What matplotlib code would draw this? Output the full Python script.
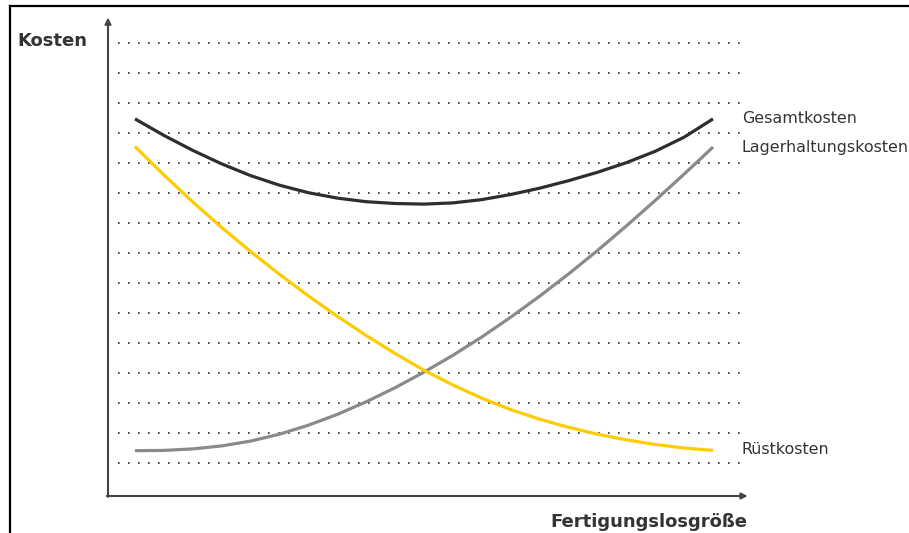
import matplotlib
matplotlib.use("Agg")
import matplotlib.pyplot as plt
from matplotlib.lines import Line2D

# ---- data ----
losgroesse = [0, 0.5, 1, 1.5, 2, 2.5, 3, 3.5, 4, 4.5, 5, 5.5, 6, 6.5, 7,
              7.5, 8, 8.5, 9, 9.5, 10]
gesamtkosten = [12.47, 11.92, 11.42, 10.97, 10.58, 10.26, 10.01, 9.83, 9.71,
                9.65, 9.63, 9.67, 9.78, 9.95, 10.16, 10.41, 10.69, 11.01,
                11.39, 11.86, 12.47]
ruestkosten = [11.55, 10.60, 9.70, 8.85, 8.05, 7.29, 6.57, 5.89, 5.25, 4.65,
               4.09, 3.60, 3.16, 2.78, 2.46, 2.19, 1.96, 1.77, 1.62, 1.50,
               1.42]
lagerkosten = [1.41, 1.42, 1.47, 1.57, 1.73, 1.96, 2.26, 2.62, 3.04, 3.51,
               4.03, 4.59, 5.20, 5.86, 6.56, 7.30, 8.08, 8.90, 9.75, 10.63,
               11.53]
grid_levels = list(range(1, 16))
series_labels = ["Gesamtkosten", "Lagerhaltungskosten", "Rüstkosten"]
y_title = "Kosten"
x_title = "Fertigungslosgröße"

W, H = 909, 533
fig = plt.figure(figsize=(W / 100, H / 100), dpi=100)
fig.patch.set_facecolor("white")

# axes placed over the plot region (pixel box 100..760 x 10..500)
ax = fig.add_axes([100 / W, (H - 500) / H, 660 / W, 490 / H])
ax.set_xlim(-0.6055, 10.813)
ax.set_ylim(-0.2333, 16.1)
ax.axis("off")

plt.rcParams["lines.scale_dashes"] = False
# dotted grid rows
ax.hlines(grid_levels, -0.30, 10.47, colors="#4a4a4a", linewidth=1.4,
          linestyles=[(0, (1.2, 6.0))])

# axes with arrows
axis_col = "#444444"
x0, y0 = -0.467, -0.1
ax.annotate("", xy=(x0, 15.85), xytext=(x0, y0 - 0.03),
            arrowprops=dict(arrowstyle="-|>", color=axis_col, lw=1.5,
                            mutation_scale=9, shrinkA=0, shrinkB=0))
ax.annotate("", xy=(10.6, y0), xytext=(x0 - 0.02, y0),
            arrowprops=dict(arrowstyle="-|>", color=axis_col, lw=1.5,
                            mutation_scale=9, shrinkA=0, shrinkB=0))

# curves
line_kw = dict(lw=2.3, solid_capstyle="butt", solid_joinstyle="round")
ax.plot(losgroesse, lagerkosten, color="#8a8a8a", **line_kw)
ax.plot(losgroesse, ruestkosten, color="#ffcc00", **line_kw)
ax.plot(losgroesse, gesamtkosten, color="#2e2e2e", **line_kw)

# series labels
lab_kw = dict(fontsize=11.4, color="#333333", ha="left", va="center",
              clip_on=False, family="DejaVu Sans")
ax.text(10.5, gesamtkosten[-1] + 0.02, series_labels[0], **lab_kw)
ax.text(10.5, lagerkosten[-1] - 0.02, series_labels[1], **lab_kw)
ax.text(10.5, ruestkosten[-1] + 0.02, series_labels[2], **lab_kw)

# titles
fig.text(17 / W, 1 - 41 / H, y_title, fontsize=13, fontweight="bold",
         color="#333333", ha="left", va="center")
fig.text(747 / W, 1 - 522 / H, x_title, fontsize=13, fontweight="bold",
         color="#333333", ha="right", va="center")

# outer frame (top and left edges)
fig.add_artist(Line2D([10 / W, 1.0], [1 - 5.5 / H, 1 - 5.5 / H],
                      color="black", lw=1.6, transform=fig.transFigure))
fig.add_artist(Line2D([10 / W, 10 / W], [0, 1 - 5.5 / H],
                      color="black", lw=1.6, transform=fig.transFigure))

fig.savefig("out.png", dpi=100)
